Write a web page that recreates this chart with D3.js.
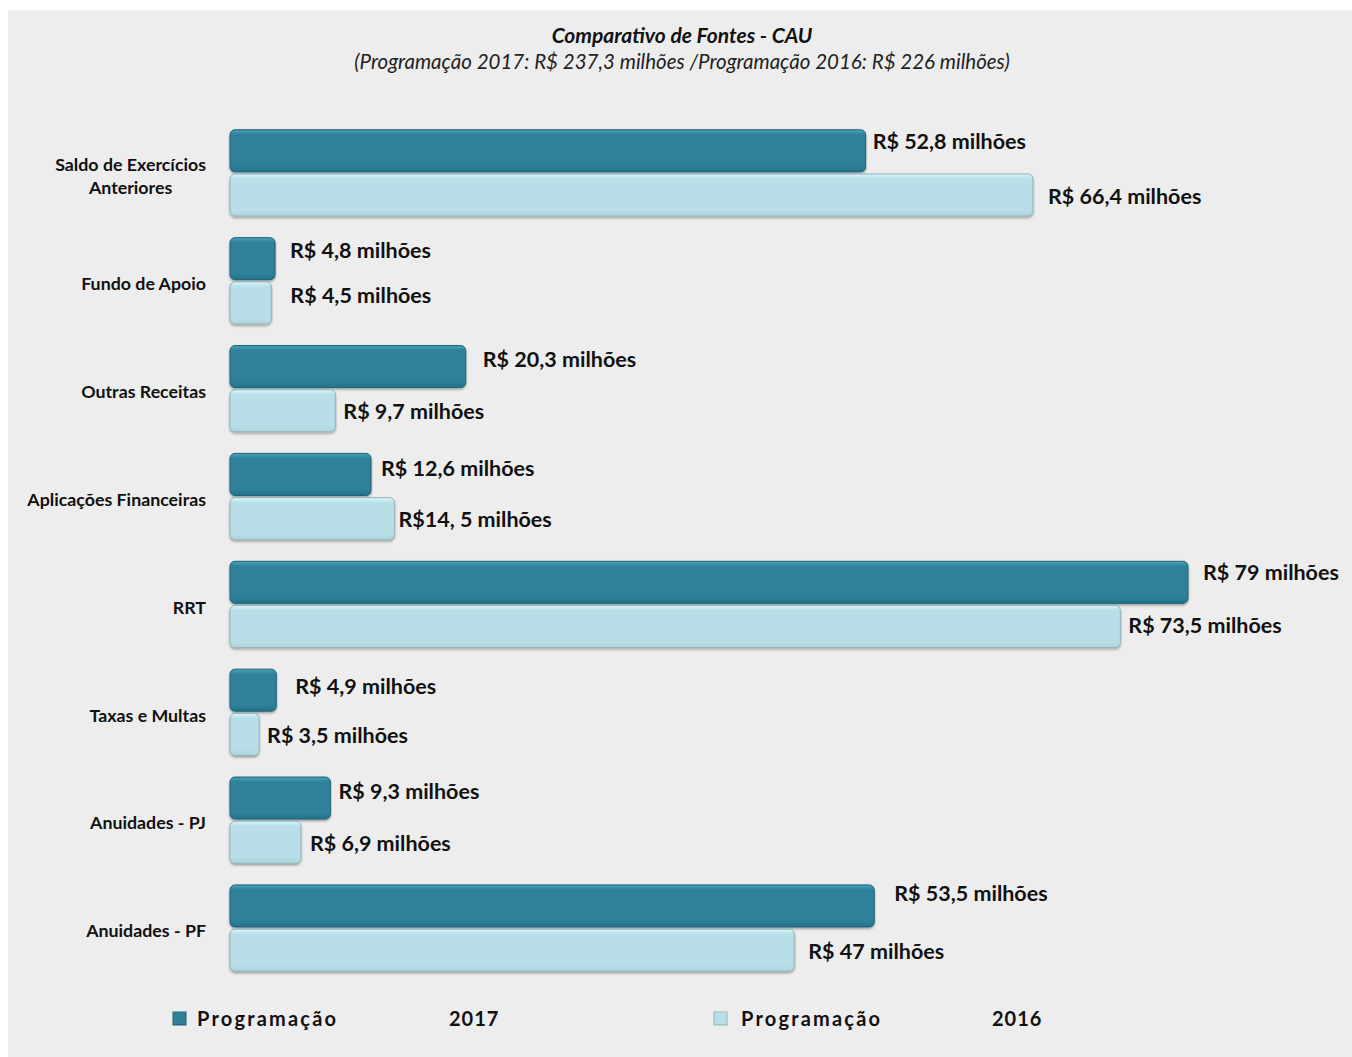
<!DOCTYPE html>
<html>
<head>
<meta charset="utf-8">
<script src="https://cdn.jsdelivr.net/npm/d3@7.9.0/dist/d3.min.js"></script>
<style>
  html, body { margin: 0; padding: 0; background: #fff; }
  svg { display: block; font-family: Lato, "Open Sans", sans-serif; }
</style>
</head>
<body>
<svg id="chart" width="1352" height="1057"></svg>
<script>
// Data
const categories = [
  "Saldo de Exercícios|Anteriores",
  "Fundo de Apoio",
  "Outras Receitas",
  "Aplicações Financeiras",
  "RRT",
  "Taxas e Multas",
  "Anuidades - PJ",
  "Anuidades - PF",
];
const series = ["Programação 2017", "Programação 2016"];
const values2017 = [52.8, 4.8, 20.3, 12.6, 79, 4.9, 9.3, 53.5];
const values2016 = [66.4, 4.5, 9.7, 14.5, 73.5, 3.5, 6.9, 47];
const labels2017 = [
  "R$ 52,8 milhões", "R$ 4,8 milhões", "R$ 20,3 milhões", "R$ 12,6 milhões",
  "R$ 79 milhões", "R$ 4,9 milhões", "R$ 9,3 milhões", "R$ 53,5 milhões",
];
const labels2016 = [
  "R$ 66,4 milhões", "R$ 4,5 milhões", "R$ 9,7 milhões", "R$14, 5 milhões",
  "R$ 73,5 milhões", "R$ 3,5 milhões", "R$ 6,9 milhões", "R$ 47 milhões",
];

// hand-placed label offsets (dx from bar end, dy from bar middle)
const nudge2017 = [[7, -9], [15, -8], [17, -7], [10, -6], [15, -10], [19, -4], [8, -7], [20, -12]];
const nudge2016 = [[15, 1], [19, -7], [8, 1], [4, 1], [8, -1], [8, 1], [9, 1], [14, 1]];

const W = 1352, H = 1057;
const plotLeft = 230;

const svg = d3.select("#chart");
const defs = svg.append("defs");

// Gradients for the bevelled bars
const palette = {
  dark: { top: "#4aa3bb", mid: "#2e8199", bot: "#23718a", stroke: "#1f6377" },
  light: { top: "#d8f7fc", mid: "#b8dfe7", bot: "#aed4dc", stroke: "#93b4bb" },
};
Object.entries(palette).forEach(([k, c]) => {
  const g = defs.append("linearGradient")
    .attr("id", "grad-" + k)
    .attr("x1", 0).attr("y1", 0).attr("x2", 0).attr("y2", 1);
  g.append("stop").attr("offset", "0%").attr("stop-color", c.top);
  g.append("stop").attr("offset", "12%").attr("stop-color", c.mid);
  g.append("stop").attr("offset", "85%").attr("stop-color", c.mid);
  g.append("stop").attr("offset", "100%").attr("stop-color", c.bot);
});
const shadow = defs.append("filter").attr("id", "shadow")
  .attr("x", "-5%").attr("y", "-10%").attr("width", "110%").attr("height", "130%");
shadow.append("feDropShadow")
  .attr("dx", 0).attr("dy", 1.5).attr("stdDeviation", 1.2)
  .attr("flood-color", "#000").attr("flood-opacity", 0.35);

// Background panel
svg.append("rect")
  .attr("x", 8).attr("y", 10)
  .attr("width", W - 8).attr("height", H - 10)
  .attr("fill", "#ededed");

// Titles
svg.append("text")
  .attr("x", 682).attr("y", 43)
  .attr("text-anchor", "middle")
  .attr("font-size", 21).attr("font-weight", "bold").attr("font-style", "italic")
  .attr("fill", "#111")
  .text("Comparativo de Fontes - CAU");
svg.append("text")
  .attr("x", 682).attr("y", 69)
  .attr("text-anchor", "middle")
  .attr("font-size", 20.5).attr("font-style", "italic")
  .attr("fill", "#222")
  .text("(Programação 2017: R$ 237,3 milhões /Programação 2016: R$ 226 milhões)");

// Scales
const x = d3.scaleLinear().domain([0, 79]).range([216, 1188]);
const y = d3.scaleBand()
  .domain(categories)
  .range([119, 982])
  .paddingInner(0.2)
  .paddingOuter(0.1);
const ySub = d3.scaleBand()
  .domain(series)
  .range([0, y.bandwidth()])
  .paddingInner(0.05);

const rows = categories.map((c, i) => ({
  cat: c,
  bars: [
    { s: series[0], v: values2017[i], label: labels2017[i], nudge: nudge2017[i], kind: "dark" },
    { s: series[1], v: values2016[i], label: labels2016[i], nudge: nudge2016[i], kind: "light" },
  ],
}));

const groups = svg.append("g").selectAll("g.row")
  .data(rows)
  .join("g")
  .attr("class", "row")
  .attr("transform", (d) => `translate(0,${y(d.cat)})`);

groups.selectAll("rect.bar")
  .data((d) => d.bars)
  .join("rect")
  .attr("class", "bar")
  .attr("x", plotLeft)
  .attr("y", (d) => ySub(d.s))
  .attr("width", (d) => x(d.v) - plotLeft)
  .attr("height", ySub.bandwidth())
  .attr("rx", 5).attr("ry", 5)
  .attr("fill", (d) => `url(#grad-${d.kind})`)
  .attr("stroke", (d) => palette[d.kind].stroke)
  .attr("stroke-width", 1)
  .attr("filter", "url(#shadow)");

groups.selectAll("text.val")
  .data((d) => d.bars)
  .join("text")
  .attr("class", "val")
  .attr("x", (d) => x(d.v) + d.nudge[0])
  .attr("y", (d) => ySub(d.s) + ySub.bandwidth() / 2 + d.nudge[1])
  .attr("dy", "0.35em")
  .attr("font-size", 21.5).attr("font-weight", "bold")
  .attr("fill", "#111")
  .text((d) => d.label);

// Category labels (right side of the block at x=206, multi-line centred)
groups.each(function (d) {
  const lines = d.cat.split("|");
  const g = d3.select(this);
  const lh = 23;
  const cy = y.bandwidth() / 2 + 3;
  const t = g.append("text")
    .attr("font-size", 17.8).attr("font-weight", "bold")
    .attr("fill", "#111");
  lines.forEach((ln, k) => {
    t.append("tspan")
      .attr("x", 0)
      .attr("y", cy + (k - (lines.length - 1) / 2) * lh)
      .attr("dy", "0.35em")
      .text(ln);
  });
  const widths = t.selectAll("tspan").nodes().map((n) => n.getComputedTextLength());
  const maxW = d3.max(widths);
  if (lines.length > 1) {
    t.attr("text-anchor", "middle");
    t.selectAll("tspan").attr("x", 206 - maxW / 2);
  } else {
    t.attr("text-anchor", "end");
    t.selectAll("tspan").attr("x", 206);
  }
});

// Legend
const legendItems = [
  { s: series[0], kind: "dark", mx: 173, tx: 197, yx: 449 },
  { s: series[1], kind: "light", mx: 714, tx: 741, yx: 992 },
];
const leg = svg.append("g").selectAll("g")
  .data(legendItems)
  .join("g");
leg.append("rect")
  .attr("x", (d) => d.mx).attr("y", 1012)
  .attr("width", 13).attr("height", 13)
  .attr("fill", (d) => `url(#grad-${d.kind})`)
  .attr("stroke", (d) => palette[d.kind].stroke)
  .attr("stroke-width", 1);
leg.append("text")
  .attr("x", (d) => d.tx).attr("y", 1019)
  .attr("dy", "0.35em")
  .attr("font-size", 20).attr("font-weight", "bold")
  .attr("letter-spacing", 2.2)
  .attr("fill", "#111")
  .text((d) => d.s.split(" ")[0]);
leg.append("text")
  .attr("x", (d) => d.yx).attr("y", 1019)
  .attr("dy", "0.35em")
  .attr("font-size", 20).attr("font-weight", "bold")
  .attr("letter-spacing", 1)
  .attr("fill", "#111")
  .text((d) => d.s.split(" ")[1]);
</script>
</body>
</html>
